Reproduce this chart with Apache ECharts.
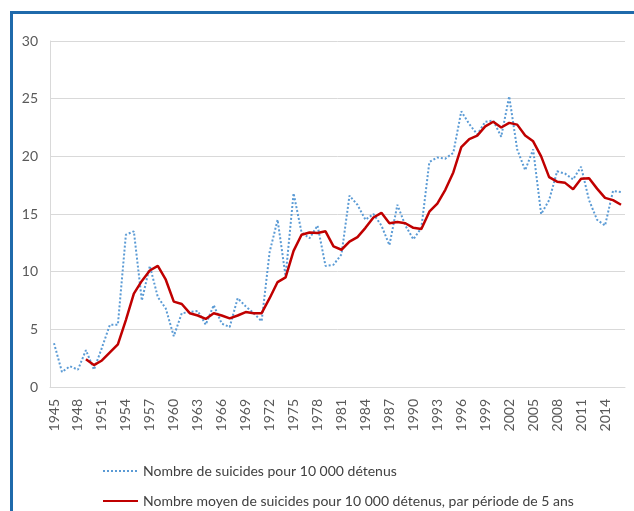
<!DOCTYPE html>
<html>
<head>
<meta charset="utf-8">
<script src="https://cdn.jsdelivr.net/npm/echarts@6/dist/echarts.min.js"></script>
<style>
html,body{margin:0;padding:0;background:#fff;}
#chart{width:634px;height:511px;}
</style>
</head>
<body>
<div id="chart"></div>
<script>
const years = [];
for (let y = 1945; y <= 2016; y++) years.push(String(y));

const annualRate = [
  3.8, 1.3, 1.8, 1.5, 3.2, 1.5, 3.4, 5.4, 5.4, 13.2,
  13.5, 7.5, 10.5, 7.8, 6.8, 4.4, 6.4, 6.5, 6.6, 5.4,
  7.1, 5.5, 5.2, 7.7, 7.0, 6.4, 5.7, 11.7, 14.5, 9.6,
  16.8, 13.4, 12.9, 14.0, 10.5, 10.6, 11.5, 16.6, 15.8, 14.5,
  15.0, 14.0, 12.3, 15.8, 14.0, 12.8, 13.8, 19.5, 19.9, 19.8,
  20.3, 23.9, 22.8, 21.9, 23.0, 23.1, 21.7, 25.2, 20.6, 18.8,
  20.6, 15.0, 16.2, 18.7, 18.5, 18.0, 19.1, 16.2, 14.5, 14.0,
  17.0, 16.9
];

const fiveYearMean = [
  null, null, null, null, 2.4, 1.9, 2.3, 3.0, 3.7, 5.8,
  8.1, 9.2, 10.1, 10.5, 9.3, 7.4, 7.2, 6.4, 6.2, 5.9,
  6.4, 6.2, 5.95, 6.2, 6.5, 6.4, 6.4, 7.7, 9.1, 9.5,
  11.8, 13.2, 13.4, 13.35, 13.5, 12.2, 11.9, 12.6, 13.0, 13.8,
  14.7, 15.1, 14.2, 14.3, 14.2, 13.8, 13.7, 15.2, 15.9, 17.1,
  18.6, 20.8, 21.5, 21.8, 22.6, 23.0, 22.5, 22.9, 22.75, 21.8,
  21.3, 20.0, 18.2, 17.8, 17.7, 17.15, 18.05, 18.1, 17.2, 16.4,
  16.2, 15.8
];

const seriesNames = [
  'Nombre de suicides pour 10 000 détenus',
  'Nombre moyen de suicides pour 10 000 détenus, par période de 5 ans'
];

const FONT = 'Lato';
const legendBase = {
  orient: 'horizontal',
  left: 102,
  padding: 0,
  itemWidth: 35,
  itemHeight: 10,
  itemGap: 10,
  itemStyle: {opacity: 0},
  textStyle: {color: '#404040', fontSize: 14, fontFamily: FONT}
};

const chart = echarts.init(document.getElementById('chart'), null, {renderer: 'canvas'});
chart.setOption({
  animation: false,
  backgroundColor: '#ffffff',
  textStyle: {fontFamily: FONT},
  graphic: [
    {type: 'rect', shape: {x: 10, y: 11, width: 624, height: 3}, style: {fill: '#1f6aab'}},
    {type: 'rect', shape: {x: 10, y: 11, width: 3, height: 500}, style: {fill: '#1f6aab'}}
  ],
  grid: {left: 50, right: 9, top: 41, bottom: 124, containLabel: false},
  xAxis: {
    type: 'category',
    data: years,
    boundaryGap: true,
    axisLine: {show: true, lineStyle: {color: '#d9d9d9', width: 1}},
    axisTick: {show: false},
    axisLabel: {
      interval: 2,
      rotate: 90,
      margin: 12,
      color: '#595959',
      fontSize: 14,
      fontFamily: FONT
    },
    splitLine: {show: false}
  },
  yAxis: {
    type: 'value',
    min: 0,
    max: 30,
    interval: 5,
    axisLine: {show: true, lineStyle: {color: '#d9d9d9', width: 1}},
    axisTick: {show: false},
    axisLabel: {color: '#595959', fontSize: 14, margin: 12, fontFamily: FONT},
    splitLine: {show: true, lineStyle: {color: '#d9d9d9', width: 1}}
  },
  legend: [
    Object.assign({}, legendBase, {top: 464, data: [seriesNames[0]]}),
    Object.assign({}, legendBase, {top: 494, data: [seriesNames[1]]})
  ],
  series: [
    {
      name: seriesNames[0],
      type: 'line',
      data: annualRate,
      symbol: 'none',
      lineStyle: {color: '#5b9bd5', width: 2, type: [2, 2]},
      itemStyle: {color: '#5b9bd5'}
    },
    {
      name: seriesNames[1],
      type: 'line',
      data: fiveYearMean,
      symbol: 'none',
      lineStyle: {color: '#c00000', width: 2.5},
      itemStyle: {color: '#c00000'}
    }
  ]
});
</script>
</body>
</html>
